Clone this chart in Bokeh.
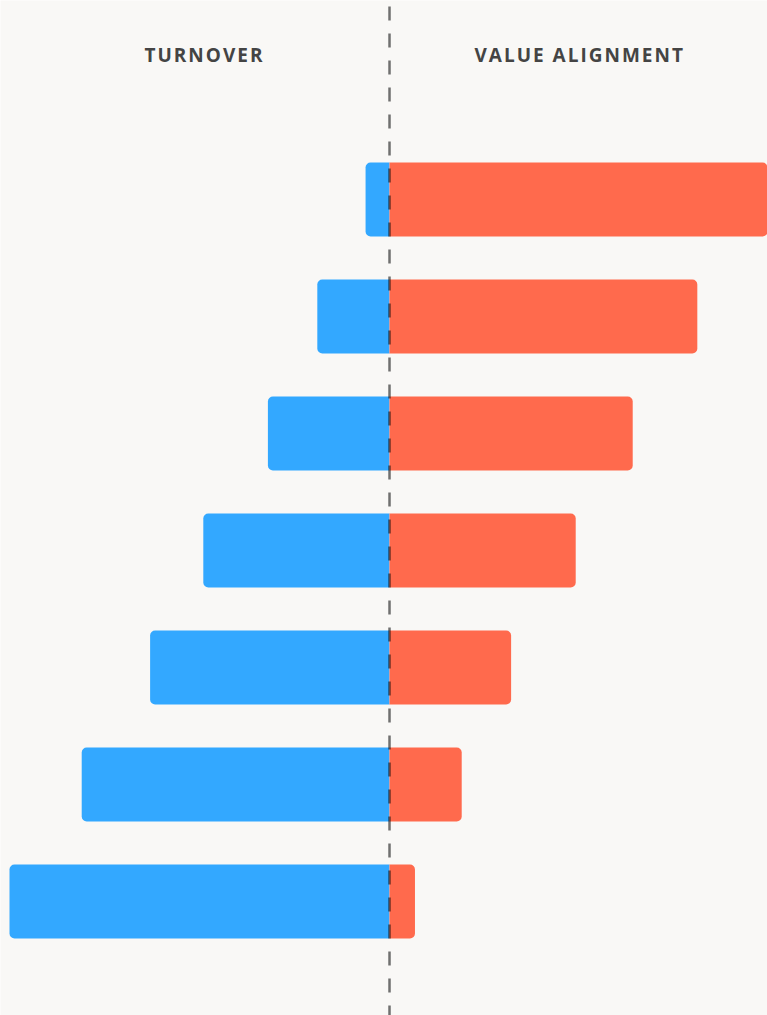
from bokeh.plotting import figure
from bokeh.models import Range1d, Span, ColumnDataSource, InlineStyleSheet
from bokeh.embed import file_html
from bokeh.resources import INLINE
from bokeh.core.properties import value

# Data
rows = [0, 1, 2, 3, 4, 5, 6]
turnover = [6.3, 19, 32, 49, 63, 81, 100]
value_alignment = [100, 81, 64, 49, 32, 19, 6.7]
titles = ["TURNOVER", "VALUE ALIGNMENT"]
title_x = [-50.8, 46.1]

BG = "#f9f8f6"
BLUE = "#33a8ff"
RED = "#ff6a4d"

p = figure(width=767, height=1015, output_backend="svg", toolbar_location=None,
           x_range=Range1d(-102.37, 99.47), y_range=Range1d(6.974, -1.701),
           min_border=0, outline_line_color=None)
p.background_fill_color = BG
p.border_fill_color = BG
p.axis.visible = False
p.grid.visible = False
p.stylesheets = [InlineStyleSheet(css=":host { letter-spacing: 2px; }")]

blue_src = ColumnDataSource(dict(y=rows, left=[-v for v in turnover], right=[0] * len(rows)))
red_src = ColumnDataSource(dict(y=rows, left=[0] * len(rows), right=value_alignment))

p.hbar(y="y", left="left", right="right", height=0.6325, source=blue_src,
       fill_color=BLUE, line_color=None, border_radius=(5, 0, 0, 5))
p.hbar(y="y", left="left", right="right", height=0.6325, source=red_src,
       fill_color=RED, line_color=None, border_radius=(0, 5, 5, 0))

p.text(x=title_x, y=[-1.231, -1.231], text=titles, text_align="center",
       text_baseline="middle", text_font=value("Open Sans"), text_font_style="bold",
       text_font_size="19px", text_color="#444444")

span = Span(location=0, dimension="height", line_color="black", line_alpha=0.55,
            line_width=2.5, line_dash="14 13", line_dash_offset=21)
p.add_layout(span)

open("out.html", "w").write(file_html(p, INLINE))
